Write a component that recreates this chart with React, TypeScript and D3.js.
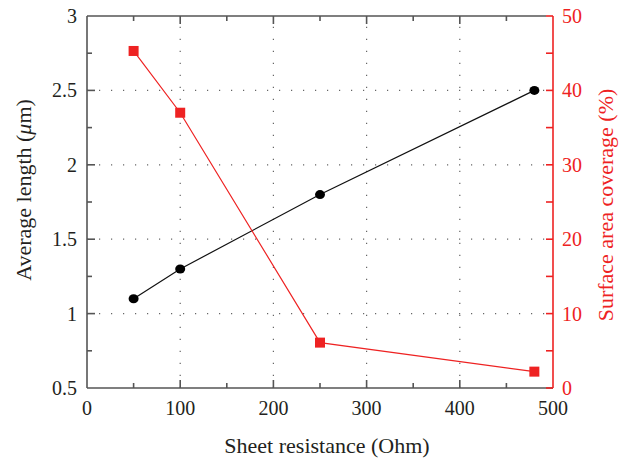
import { useRef, useEffect } from "react";
import * as d3 from "d3";

// Sheet resistance (Ohm)
const resistance = [50, 100, 250, 480];
// Average length (um), left axis
const avgLength = [1.1, 1.3, 1.8, 2.5];
// Surface area coverage (%), right axis
const coverage = [45.3, 37.0, 6.1, 2.2];

const xTicks = [0, 100, 200, 300, 400, 500];
const yTicks = [0.5, 1, 1.5, 2, 2.5, 3];
const y2Ticks = [0, 10, 20, 30, 40, 50];

export default function App() {
  const ref = useRef<SVGSVGElement>(null);

  useEffect(() => {
    const svg = d3.select(ref.current);
    svg.selectAll("*").remove();

    const left = 87;
    const right = 553;
    const top = 16;
    const bottom = 388;
    const font = "'Liberation Serif', 'DejaVu Serif', serif";
    const red = "#ee2222";
    const ink = "#231f20";
    const axisGray = "#555";

    const x = d3.scaleLinear().domain([0, 500]).range([left, right]);
    const y = d3.scaleLinear().domain([0.5, 3]).range([bottom, top]);
    const y2 = d3.scaleLinear().domain([0, 50]).range([bottom, top]);

    // Dotted grid
    const grid = svg.append("g");
    xTicks.slice(1, -1).forEach((t) => {
      grid
        .append("line")
        .attr("x1", x(t))
        .attr("x2", x(t))
        .attr("y1", bottom)
        .attr("y2", top)
        .attr("stroke", "#666")
        .attr("stroke-width", 1.2)
        .attr("stroke-dasharray", "1.2,10.8");
    });
    yTicks.slice(1, -1).forEach((t) => {
      grid
        .append("line")
        .attr("x1", left)
        .attr("x2", right)
        .attr("y1", y(t))
        .attr("y2", y(t))
        .attr("stroke", "#666")
        .attr("stroke-width", 1.2)
        .attr("stroke-dasharray", "1.2,10.8");
    });

    // Frame
    const frame = svg.append("g").attr("stroke", axisGray).attr("stroke-width", 1.6);
    frame.append("line").attr("x1", left).attr("x2", right).attr("y1", bottom).attr("y2", bottom);
    frame.append("line").attr("x1", left).attr("x2", right - 7).attr("y1", top).attr("y2", top);
    frame.append("line").attr("x1", left).attr("x2", left).attr("y1", top).attr("y2", bottom);

    // X ticks (bottom & top, inward)
    d3.range(0, 501, 50).forEach((t) => {
      const len = t % 100 === 0 ? 8 : 5;
      if (t === 0 || t === 500) return;
      frame.append("line").attr("x1", x(t)).attr("x2", x(t)).attr("y1", bottom).attr("y2", bottom - len);
      frame.append("line").attr("x1", x(t)).attr("x2", x(t)).attr("y1", top).attr("y2", top + len);
    });
    // Left ticks
    d3.range(0.5, 3.01, 0.25).forEach((t) => {
      const major = Math.abs(t * 2 - Math.round(t * 2)) < 1e-6;
      if (t === 0.5 || t > 2.99) return;
      frame.append("line").attr("x1", left).attr("x2", left + (major ? 8 : 5)).attr("y1", y(t)).attr("y2", y(t));
    });

    // Right axis (red)
    const r = svg.append("g").attr("stroke", red).attr("stroke-width", 1.6);
    r.append("line").attr("x1", right).attr("x2", right).attr("y1", top).attr("y2", bottom);
    d3.range(0, 51, 5).forEach((t) => {
      r.append("line").attr("x1", right).attr("x2", right - 7).attr("y1", y2(t)).attr("y2", y2(t));
    });

    const txt = (size: number) => (g: any) =>
      g.style("font-family", font).style("font-size", `${size}px`);

    // Tick labels
    svg
      .append("g")
      .selectAll("text")
      .data(xTicks)
      .join("text")
      .attr("x", (d) => x(d))
      .attr("y", bottom + 27)
      .attr("text-anchor", "middle")
      .attr("fill", ink)
      .call(txt(20))
      .text((d) => d);
    svg
      .append("g")
      .selectAll("text")
      .data(yTicks)
      .join("text")
      .attr("x", left - 10)
      .attr("y", (d) => y(d) + 7)
      .attr("text-anchor", "end")
      .attr("fill", ink)
      .call(txt(20))
      .text((d) => d);
    svg
      .append("g")
      .selectAll("text")
      .data(y2Ticks)
      .join("text")
      .attr("x", right + 9)
      .attr("y", (d) => y2(d) + 7)
      .attr("text-anchor", "start")
      .attr("fill", red)
      .call(txt(20))
      .text((d) => d);

    // Axis titles
    svg
      .append("text")
      .attr("x", 327)
      .attr("y", 453)
      .attr("text-anchor", "middle")
      .attr("fill", ink)
      .call(txt(22))
      .text("Sheet resistance (Ohm)");

    const lt = svg
      .append("text")
      .attr("transform", `translate(31,190) rotate(-90)`)
      .attr("text-anchor", "middle")
      .attr("fill", ink)
      .call(txt(22));
    lt.append("tspan").text("Average length (");
    lt.append("tspan").attr("font-style", "italic").text("μ");
    lt.append("tspan").text("m)");

    svg
      .append("text")
      .attr("transform", `translate(613,205) rotate(-90)`)
      .attr("text-anchor", "middle")
      .attr("fill", red)
      .call(txt(22))
      .text("Surface area coverage (%)");

    // Black series
    const blackData = resistance.map((d, i) => [d, avgLength[i]] as [number, number]);
    svg
      .append("path")
      .datum(blackData)
      .attr("d", d3.line<[number, number]>().x((d) => x(d[0])).y((d) => y(d[1])))
      .attr("fill", "none")
      .attr("stroke", "#111")
      .attr("stroke-width", 1.2);
    svg
      .append("g")
      .selectAll("ellipse")
      .data(blackData)
      .join("ellipse")
      .attr("cx", (d) => x(d[0]))
      .attr("cy", (d) => y(d[1]))
      .attr("rx", 5)
      .attr("ry", 4.5)
      .attr("fill", "#000");

    // Red series
    const redData = resistance.map((d, i) => [d, coverage[i]] as [number, number]);
    svg
      .append("path")
      .datum(redData)
      .attr("d", d3.line<[number, number]>().x((d) => x(d[0])).y((d) => y2(d[1])))
      .attr("fill", "none")
      .attr("stroke", red)
      .attr("stroke-width", 1.2);
    svg
      .append("g")
      .selectAll("rect")
      .data(redData)
      .join("rect")
      .attr("x", (d) => x(d[0]) - 5)
      .attr("y", (d) => y2(d[1]) - 5)
      .attr("width", 10)
      .attr("height", 10)
      .attr("fill", red);
  }, []);

  return (
    <svg
      ref={ref}
      width={623}
      height={460}
      style={{ position: "absolute", left: 0, top: 0, background: "#fff" }}
    />
  );
}
